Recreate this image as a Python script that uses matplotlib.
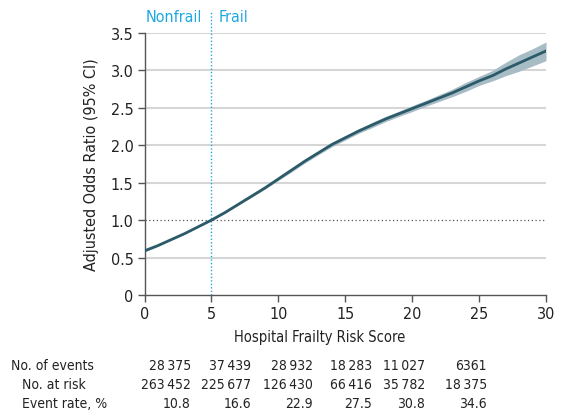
import matplotlib
matplotlib.use("Agg")
import matplotlib.pyplot as plt

# Prefer a narrow sans face for the whole figure
plt.rcParams['font.family'] = ['DejaVu Sans']
plt.rcParams['font.stretch'] = 'condensed'

# Adjusted odds ratio by Hospital Frailty Risk Score
score = [0, 1, 2, 3, 4, 5, 6, 7, 8, 9, 10, 11, 12, 13, 14, 15,
         16, 17, 18, 19, 20, 21, 22, 23, 24, 25, 26, 27, 28, 29, 30]
odds_ratio = [0.59, 0.66, 0.74, 0.82, 0.91, 1.00, 1.10, 1.21, 1.32, 1.43, 1.55,
              1.67, 1.79, 1.90, 2.01, 2.10, 2.19, 2.27, 2.35, 2.42, 2.49,
              2.56, 2.63, 2.70, 2.78, 2.86, 2.93, 3.02, 3.10, 3.18, 3.26]
ci_lower = [0.575, 0.65, 0.735, 0.815, 0.905, 0.995, 1.09, 1.20, 1.305, 1.415, 1.53,
            1.645, 1.765, 1.875, 1.98, 2.07, 2.16, 2.235, 2.315, 2.385, 2.45,
            2.52, 2.585, 2.65, 2.72, 2.80, 2.86, 2.93, 2.99, 3.06, 3.13]
ci_upper = [0.605, 0.67, 0.745, 0.825, 0.915, 1.005, 1.11, 1.22, 1.335, 1.445, 1.57,
            1.695, 1.815, 1.925, 2.04, 2.13, 2.22, 2.305, 2.385, 2.455, 2.53,
            2.60, 2.675, 2.75, 2.84, 2.92, 3.00, 3.11, 3.21, 3.29, 3.38]

x_ticks = [0, 5, 10, 15, 20, 25, 30]
y_ticks = [0, 0.5, 1.0, 1.5, 2.0, 2.5, 3.0, 3.5]
y_tick_labels = ['0', '0.5', '1.0', '1.5', '2.0', '2.5', '3.0', '3.5']

table_rows = ['No. of events', 'No. at risk', 'Event rate, %']
events = ['28\u2009375', '37\u2009439', '28\u2009932', '18\u2009283', '11\u2009027', '6361']
at_risk = ['263\u2009452', '225\u2009677', '126\u2009430', '66\u2009416', '35\u2009782', '18\u2009375']
event_rate = ['10.8', '16.6', '22.9', '27.5', '30.8', '34.6']

W, H = 563, 414
fig = plt.figure(figsize=(W / 100, H / 100), dpi=100)
ax = fig.add_axes([144.5 / W, 1 - 296 / H, (546 - 144.5) / W, (296 - 34) / H])

line_col = '#2b5a68'
band_col = '#a8bcc6'
cyan = '#1ea7e1'
txt = '#222222'

for yv in [0.5, 1.5, 2.0, 2.5, 3.0, 3.5]:
    ax.axhline(yv, color='#d6d6d6', lw=1.5, zorder=0)
ax.axhline(1.0, color='#555555', lw=0.9, ls=(0, (1, 2)), zorder=1)
ax.axvline(5, color=cyan, lw=1.0, ls=(0, (1, 1.5)), zorder=1, clip_on=False,
           ymax=1.084)

ax.fill_between(score, ci_lower, ci_upper, color=band_col, lw=0, zorder=2)
ax.plot(score, odds_ratio, color=line_col, lw=2.0, zorder=3)

ax.set_xlim(0, 30)
ax.set_ylim(0, 3.5)
ax.set_xticks(x_ticks)
ax.set_yticks(y_ticks)
ax.set_yticklabels(y_tick_labels)
for s in ['top', 'right']:
    ax.spines[s].set_visible(False)
for s in ['left', 'bottom']:
    ax.spines[s].set_color('#555555')
    ax.spines[s].set_linewidth(1.0)
ax.tick_params(direction='out', length=5, width=1, color='#555555',
               labelsize=11.5, labelcolor=txt, pad=3)
ax.set_ylabel('Adjusted Odds Ratio (95% CI)', fontsize=11.5, color=txt, labelpad=8)

fig.text(202 / W, 1 - 18 / H, 'Nonfrail', color=cyan, fontsize=11.5,
         ha='right', va='center')
fig.text(219 / W, 1 - 18 / H, 'Frail', color=cyan, fontsize=11.5,
         ha='left', va='center')

fig.text(320 / W, 1 - 338 / H, 'Hospital Frailty Risk Score', fontsize=10.5,
         color=txt, ha='center', va='center')

row_y = [366, 385, 404]
row_x = [11, 22, 22]
col_right = [191, 251, 313, 372, 425, 487]
for label, rx, ry, vals in zip(table_rows, row_x, row_y, [events, at_risk, event_rate]):
    fig.text(rx / W, 1 - ry / H, label, fontsize=10, color=txt, ha='left', va='center')
    for cx, v in zip(col_right, vals):
        fig.text(cx / W, 1 - ry / H, v, fontsize=10, color=txt, ha='right', va='center')

fig.savefig('out.png', dpi=100)
